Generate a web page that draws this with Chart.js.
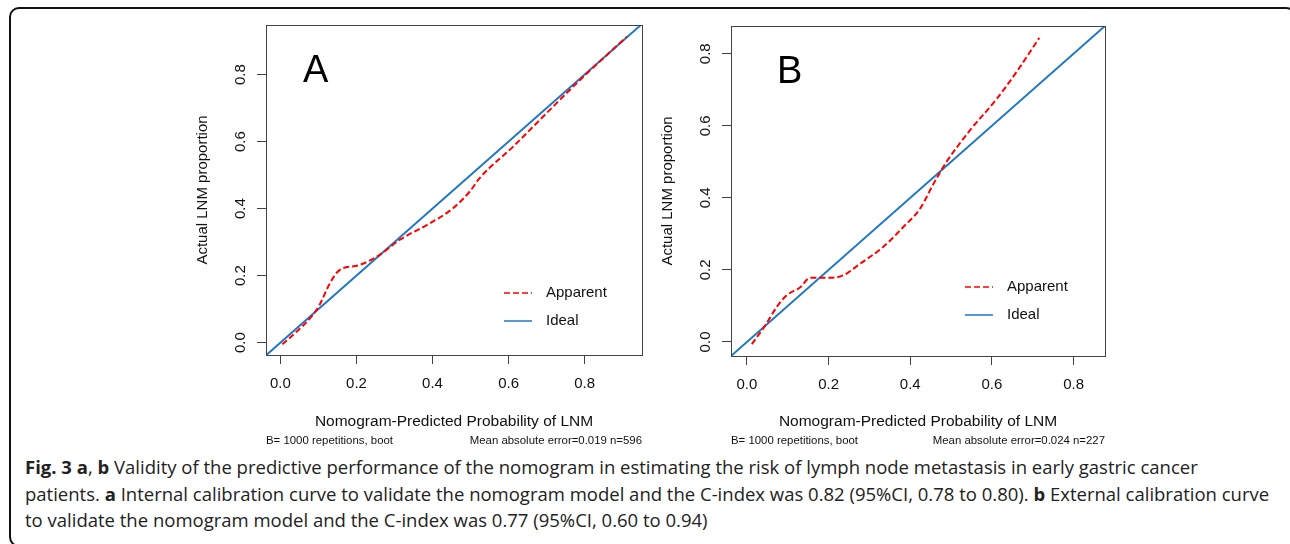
<!DOCTYPE html>
<html>
<head>
<meta charset="utf-8">
<script src="https://cdn.jsdelivr.net/npm/chart.js@4.4.1/dist/chart.umd.min.js"></script>
<style>
  body { margin: 0; background: #fff; width: 1290px; height: 544px; overflow: hidden; position: relative; font-family: "Liberation Sans", Arial, sans-serif; }
  .frame { position: absolute; left: 9px; top: 7px; width: 1283px; height: 536px; border: 2px solid #111; border-radius: 10px; }
  .panel { position: absolute; top: 0; }
  #panelA { left: 180px; }
  #panelB { left: 650px; }
  .caption { position: absolute; left: 25px; top: 454px; font-family: "Open Sans", sans-serif; font-size: 18.5px; line-height: 26.5px; color: #222; white-space: nowrap; }
</style>
</head>
<body>
<div class="frame"></div>
<canvas id="panelA" class="panel" width="480" height="450"></canvas>
<canvas id="panelB" class="panel" width="480" height="450"></canvas>
<div class="caption"><b>Fig. 3 a</b>, <b>b</b> Validity of the predictive performance of the nomogram in estimating the risk of lymph node metastasis in early gastric cancer<br>patients. <b>a</b> Internal calibration curve to validate the nomogram model and the C-index was 0.82 (95%CI, 0.78 to 0.80). <b>b</b> External calibration curve<br>to validate the nomogram model and the C-index was 0.77 (95%CI, 0.60 to 0.94)</div>
<script>
// tick values shared by both panels
const xTicks = [0, 0.2, 0.4, 0.6, 0.8];
const yTicks = [0, 0.2, 0.4, 0.6, 0.8];

// panel A: internal calibration (n=596)
const apparentAx = [0.005, 0.04, 0.082, 0.103, 0.13, 0.154, 0.209, 0.261, 0.314, 0.393, 0.454, 0.498, 0.524, 0.612, 0.70, 0.788, 0.911];
const apparentAy = [-0.005, 0.03, 0.078, 0.113, 0.177, 0.215, 0.232, 0.262, 0.307, 0.356, 0.401, 0.451, 0.491, 0.585, 0.685, 0.784, 0.913];
const idealA = [-0.05, 0.96];

// panel B: external calibration (n=227)
const apparentBx = [0.012, 0.045, 0.073, 0.098, 0.13, 0.155, 0.204, 0.236, 0.277, 0.334, 0.383, 0.424, 0.457, 0.489, 0.546, 0.612, 0.66, 0.716];
const apparentBy = [-0.006, 0.046, 0.097, 0.13, 0.151, 0.178, 0.178, 0.185, 0.217, 0.264, 0.319, 0.37, 0.439, 0.5, 0.587, 0.675, 0.749, 0.844];
const idealB = [-0.05, 0.89];

const RED = '#ff0000';
const BLUE = '#1f77c4';
const AXIS = '#444';

// box, panel letter, legend and the bootstrap note under the x title
const panelDecor = {
  id: 'panelDecor',
  afterDraw(chart, args, o) {
    const { ctx, chartArea: a } = chart;
    ctx.save();
    ctx.strokeStyle = AXIS;
    ctx.lineWidth = 1;
    ctx.strokeRect(a.left + 0.5, a.top + 0.5, a.right - a.left, a.bottom - a.top);

    ctx.fillStyle = '#000';
    ctx.font = '38px "Liberation Sans", Arial, sans-serif';
    ctx.textAlign = 'left';
    ctx.textBaseline = 'alphabetic';
    ctx.fillText(o.letter, a.left + o.letterX, a.top + 57);

    ctx.font = '15px "Liberation Sans", Arial, sans-serif';
    ctx.textBaseline = 'middle';
    chart.data.datasets.forEach((ds, i) => {
      const y = a.bottom - o.legendY[i];
      ctx.strokeStyle = ds.borderColor;
      ctx.lineWidth = 1.5;
      ctx.setLineDash(ds.borderDash || []);
      ctx.beginPath();
      ctx.moveTo(a.left + o.legendX[0], y);
      ctx.lineTo(a.left + o.legendX[1], y);
      ctx.stroke();
      ctx.setLineDash([]);
      ctx.fillStyle = '#111';
      ctx.fillText(ds.label, a.left + o.legendX[2], y);
    });

    ctx.font = '11.4px "Liberation Sans", Arial, sans-serif';
    ctx.fillStyle = '#111';
    ctx.textAlign = 'left';
    ctx.fillText(o.noteLeft, a.left, 441);
    ctx.textAlign = 'right';
    ctx.fillText(o.noteRight, a.right, 441);
    ctx.restore();
  }
};

function makePanel(id, p) {
  new Chart(document.getElementById(id), {
    type: 'line',
    data: {
      datasets: [
        { label: 'Apparent', data: p.apparentX.map((x, i) => ({ x, y: p.apparentY[i] })), borderColor: RED, borderWidth: 2, borderDash: [6, 3], pointRadius: 0, cubicInterpolationMode: 'monotone', fill: false },
        { label: 'Ideal', data: p.ideal.map(v => ({ x: v, y: v })), borderColor: BLUE, borderWidth: 2, pointRadius: 0, fill: false }
      ]
    },
    options: {
      responsive: false,
      animation: false,
      events: [],
      layout: { padding: { top: p.top, right: p.right, left: 0, bottom: 0 } },
      plugins: {
        legend: { display: false },
        tooltip: { enabled: false },
        panelDecor: { letter: p.letter, letterX: p.letterX, legendX: p.legendX, legendY: p.legendY, noteLeft: p.noteLeft, noteRight: p.noteRight }
      },
      scales: {
        x: {
          type: 'linear', min: p.xRange[0], max: p.xRange[1],
          afterBuildTicks: s => { s.ticks = xTicks.map(v => ({ value: v })); },
          afterFit: s => { s.height = p.xAxisHeight; },
          grid: { drawOnChartArea: false, tickLength: 9, color: AXIS, offset: false },
          border: { display: false },
          ticks: { callback: v => v.toFixed(1), font: { size: 15 }, color: '#111', padding: 11, maxRotation: 0, autoSkip: false },
          title: { display: true, text: 'Nomogram-Predicted Probability of LNM', font: { size: 15.5 }, color: '#111', padding: { bottom: 19 } }
        },
        y: {
          type: 'linear', min: p.yRange[0], max: p.yRange[1],
          afterBuildTicks: s => { s.ticks = yTicks.map(v => ({ value: v })); },
          afterFit: s => { s.width = p.yAxisWidth; },
          grid: { drawOnChartArea: false, tickLength: 9, color: AXIS, offset: false },
          border: { display: false },
          ticks: { callback: v => v.toFixed(1), font: { size: 15 }, color: '#111', padding: 6, minRotation: 90, maxRotation: 90, crossAlign: 'center', autoSkip: false },
          title: { display: true, text: 'Actual LNM proportion', font: { size: 15 }, color: '#111', padding: { top: p.yTitlePad } }
        }
      }
    },
    plugins: [panelDecor]
  });
}

Chart.defaults.font.family = '"Liberation Sans", Arial, sans-serif';

makePanel('panelA', {
  apparentX: apparentAx, apparentY: apparentAy, ideal: idealA,
  xRange: [-0.038, 0.951], yRange: [-0.037, 0.948],
  top: 25, right: 18, xAxisHeight: 95, yAxisWidth: 86, yTitlePad: 14,
  letter: 'A', letterX: 37, legendX: [238, 266, 280], legendY: [62, 34],
  noteLeft: 'B= 1000 repetitions, boot', noteRight: 'Mean absolute error=0.019 n=596'
});

makePanel('panelB', {
  apparentX: apparentBx, apparentY: apparentBy, ideal: idealB,
  xRange: [-0.039, 0.877], yRange: [-0.039, 0.877],
  top: 26, right: 25, xAxisHeight: 94, yAxisWidth: 81, yTitlePad: 9,
  letter: 'B', letterX: 46, legendX: [234, 262, 276], legendY: [69, 41],
  noteLeft: 'B= 1000 repetitions, boot', noteRight: 'Mean absolute error=0.024 n=227'
});
</script>
</body>
</html>
